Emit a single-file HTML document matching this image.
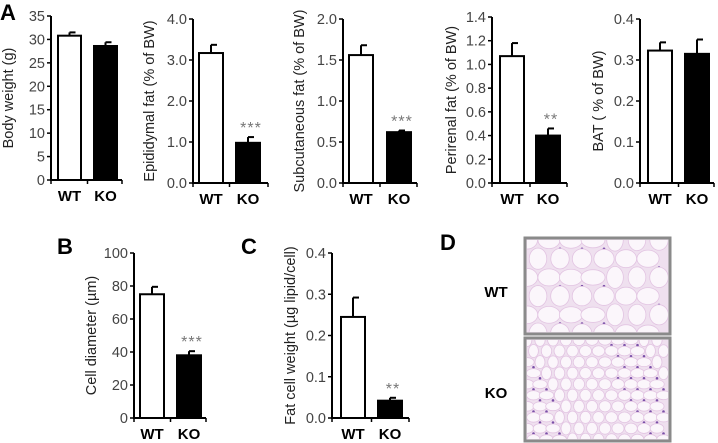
<!DOCTYPE html>
<html><head><meta charset="utf-8"><style>
html,body{margin:0;padding:0;background:#fff;}
svg{display:block;font-family:"Liberation Sans",Arial,sans-serif;}
.tk{font-size:14.5px;fill:#444;}
.tt{font-size:14.5px;fill:#222;}
.cat{font-size:15px;font-weight:bold;fill:#000;}
.pl{font-size:22px;font-weight:bold;fill:#000;}
</style></head><body>
<svg id="fig" width="718" height="443" viewBox="0 0 718 443" xmlns="http://www.w3.org/2000/svg">
<text class="pl" x="0" y="20">A</text>
<text class="pl" x="57" y="254">B</text>
<text class="pl" x="241" y="254">C</text>
<text class="pl" x="440" y="250">D</text>
<g id="histo"></g>
</svg>
<script>
const categories = ["WT","KO"];
const bodyWeight = [30.8, 28.6];      const bodyWeightErr = [0.7, 0.8];
const epiFat = [3.17, 0.98];          const epiFatErr = [0.2, 0.14];
const subFat = [1.56, 0.62];          const subFatErr = [0.12, 0.02];
const periFat = [1.07, 0.40];         const periFatErr = [0.11, 0.06];
const batVals = [0.323, 0.315];       const batErr = [0.02, 0.035];
const cellDiam = [75, 38];            const cellDiamErr = [4.5, 2.5];
const cellWeight = [0.245, 0.042];    const cellWeightErr = [0.047, 0.007];
const bodyTicks = ["0","5","10","15","20","25","30","35"];
const epiTicks = ["0.0","1.0","2.0","3.0","4.0"];
const subTicks = ["0.0","0.5","1.0","1.5","2.0"];
const periTicks = ["0.0","0.2","0.4","0.6","0.8","1.0","1.2","1.4"];
const batTicks = ["0.0","0.1","0.2","0.3","0.4"];
const diamTicks = ["0","20","40","60","80","100"];
const weightTicks = ["0.0","0.1","0.2","0.3","0.4"];
const epiSig = ["","***"], subSig = ["","***"], periSig = ["","**"], batSig = ["",""];
const diamSig = ["","***"], weightSig = ["","**"], bodySig = ["",""];

const NS="http://www.w3.org/2000/svg";
const svg=document.getElementById('fig');
function mk(tag,attrs,parent){const e=document.createElementNS(NS,tag);for(const k in attrs)e.setAttribute(k,attrs[k]);(parent||svg).appendChild(e);return e;}

function chart(cfg){
  const g=mk('g',{});
  
  
  const tmax=parseFloat(cfg.ticks[cfg.ticks.length-1]);
  const y=v=>cfg.y0-(v/tmax)*(cfg.y0-cfg.yTop);
  const ax=mk('line',{x1:cfg.ax,y1:cfg.yTop,x2:cfg.ax,y2:cfg.y0+0.5,stroke:'#000','stroke-width':2},g);
  
  
  const xa=mk('line',{x1:cfg.ax-1,y1:cfg.y0,x2:cfg.axEnd,y2:cfg.y0,stroke:'#000','stroke-width':2},g);
  
  
  const mid=(cfg.bx[0]+cfg.bw+cfg.bx[1])/2;
  [cfg.ax,mid,cfg.axEnd].forEach(xx=>mk('line',{x1:xx,y1:cfg.y0,x2:xx,y2:cfg.y0+4,stroke:'#000','stroke-width':1.5},g));
  cfg.ticks.forEach(t=>{
    const yy=y(parseFloat(t));
    mk('line',{x1:cfg.ax-4,y1:yy,x2:cfg.ax,y2:yy,stroke:'#000','stroke-width':1.5},g);
    const tx=mk('text',{x:cfg.ax-6,y:yy+5,'text-anchor':'end',class:'tk'},g);
    tx.textContent=t;
    
    
  });
  cfg.vals.forEach((v,i)=>{
    const x0=cfg.bx[i], top=y(v), e=y(v+cfg.err[i]), cx=x0+cfg.bw/2;
    const el=mk('line',{x1:cx,y1:top,x2:cx,y2:e,stroke:'#000','stroke-width':2},g);
    
    
    mk('line',{x1:cx,y1:e,x2:cx+6,y2:e,stroke:'#000','stroke-width':2},g);
    const r=mk('rect',{x:x0,y:top,width:cfg.bw,height:cfg.y0-top,fill:i==0?'#fff':'#000',stroke:'#000','stroke-width':2},g);
    
    
    if(cfg.sig[i]){
      const s=mk('text',{x:cx+3,y:e-4,'text-anchor':'middle',style:'font-size:16px;fill:#777;letter-spacing:1px'},g);
      s.textContent=cfg.sig[i];
      
      
    }
    const c=mk('text',{x:cx,y:cfg.y0+21,'text-anchor':'middle',class:'cat'},g);
    c.textContent=categories[i];
    
    
  });
  const ty=(cfg.yTop+cfg.y0)/2;
  const tt=mk('text',{x:cfg.tx,y:ty,'text-anchor':'middle',class:'tt',transform:`rotate(-90 ${cfg.tx} ${ty})`},g);
  tt.textContent=cfg.title;
  
  
}
chart({name:'body-weight-chart',ax:51,axEnd:122,yTop:16,y0:180,bx:[58,94],bw:23,vals:bodyWeight,err:bodyWeightErr,ticks:bodyTicks,sig:bodySig,title:'Body weight (g)',tx:13});
chart({name:'epididymal-fat-chart',ax:193,axEnd:268,yTop:19,y0:183,bx:[199,236],bw:24,vals:epiFat,err:epiFatErr,ticks:epiTicks,sig:epiSig,title:'Epididymal fat (% of BW)',tx:154});
chart({name:'subcutaneous-fat-chart',ax:343,axEnd:417,yTop:19,y0:183,bx:[349,387],bw:24,vals:subFat,err:subFatErr,ticks:subTicks,sig:subSig,title:'Subcutaneous fat (% of BW)',tx:304});
chart({name:'perirenal-fat-chart',ax:492,axEnd:567,yTop:17,y0:183,bx:[500,536],bw:24,vals:periFat,err:periFatErr,ticks:periTicks,sig:periSig,title:'Perirenal fat (% of BW)',tx:456});
chart({name:'bat-chart',ax:640,axEnd:714,yTop:19,y0:183,bx:[648,685],bw:24,vals:batVals,err:batErr,ticks:batTicks,sig:batSig,title:'BAT ( % of BW)',tx:603});
chart({name:'cell-diameter-chart',ax:134,axEnd:206,yTop:253,y0:418,bx:[140,177],bw:24,vals:cellDiam,err:cellDiamErr,ticks:diamTicks,sig:diamSig,title:'Cell diameter (µm)',tx:96});
chart({name:'fat-cell-weight-chart',ax:332,axEnd:409,yTop:253,y0:418,bx:[341,378],bw:24,vals:cellWeight,err:cellWeightErr,ticks:weightTicks,sig:weightSig,title:'Fat cell weight (µg lipid/cell)',tx:295});

const h=document.getElementById('histo');
function micro(x,y,w,hh,cell,name,label,ly){
  const g=mk('g',{},h);
  
  
  mk('rect',{x:x,y:y,width:w,height:hh,fill:'#efe0ef',stroke:'#8a8a8a','stroke-width':3},g);
  const cp='c'+name;
  const cl=mk('clipPath',{id:cp},g);mk('rect',{x:x+2,y:y+2,width:w-4,height:hh-4},cl);
  const inner=mk('g',{'clip-path':`url(#${cp})`},g);
  let k=0;
  for(let yy=y+2;yy<y+hh;yy+=cell*0.85){
    for(let xx=x+2+((k%2)*cell/2);xx<x+w;xx+=cell){
      const j=((xx*7+yy*13)%9)/9;
      mk('ellipse',{cx:xx,cy:yy,rx:cell*0.47*(0.8+j*0.4),ry:cell*0.42*(0.8+(1-j)*0.4),fill:'#fbf6fb',stroke:'#e2c4e2','stroke-width':0.8},inner);
      if(j>0.6) mk('circle',{cx:xx+cell/2,cy:yy+cell*0.4,r:1.3,fill:'#7a4fa8'},inner);
    }
    k++;
  }
  const t=mk('text',{x:496,y:ly,'text-anchor':'middle',class:'cat'},svg);
  t.textContent=label;
  
  
}
micro(525,238,145,96,22,'histology-wt','WT',297);
micro(525,338,145,103,13,'histology-ko','KO',398);
</script>
</body></html>
